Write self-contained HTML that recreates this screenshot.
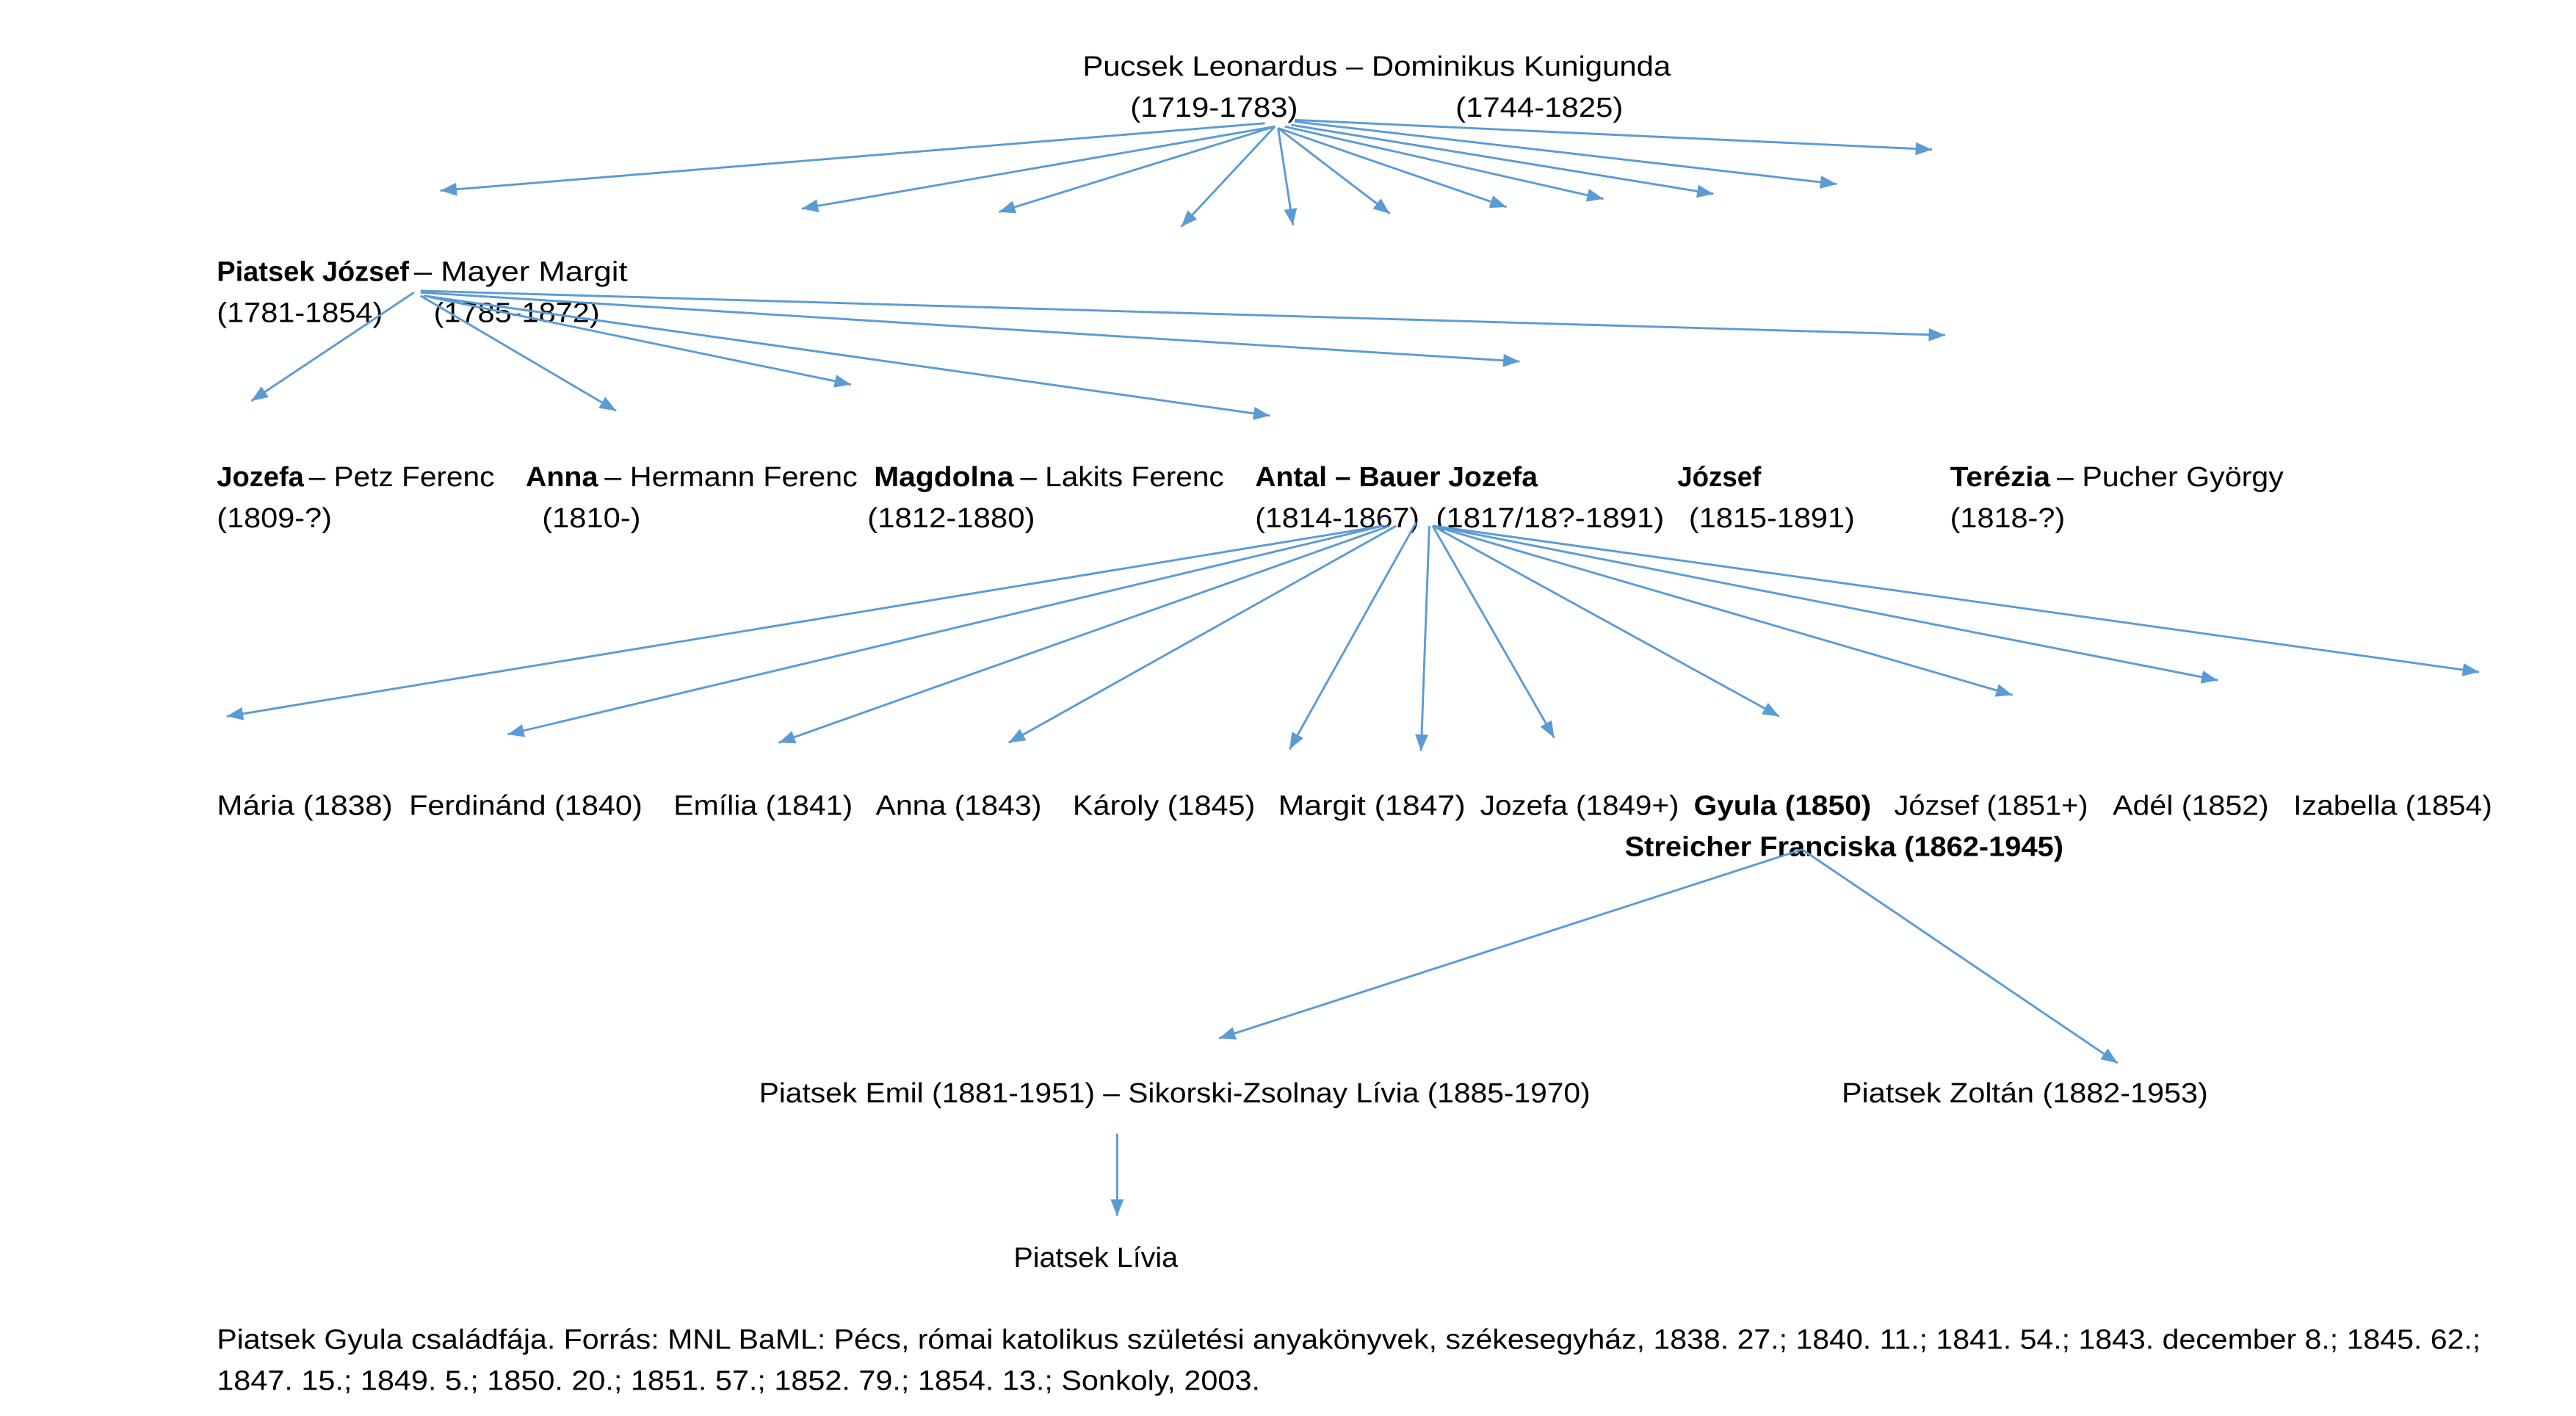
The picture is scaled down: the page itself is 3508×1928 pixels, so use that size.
<!DOCTYPE html>
<html><head><meta charset="utf-8"><style>
html,body{margin:0;padding:0;background:#fff;}
svg{display:block;}
text{font-family:"Liberation Sans",sans-serif;font-size:17px;fill:#000;}
.b{font-weight:bold;}
line{stroke:#5b9bd5;stroke-width:1.3;}
</style></head><body>
<svg width="3508" height="1928" viewBox="0 0 1568 861.8" preserveAspectRatio="none" xmlns="http://www.w3.org/2000/svg">
<defs><marker id="a" markerWidth="10" markerHeight="8" refX="10" refY="4" orient="auto" markerUnits="userSpaceOnUse"><path d="M0,0 L10,4 L0,8 Z" fill="#5b9bd5"/></marker></defs>

<text x="659" y="46" textLength="358" lengthAdjust="spacingAndGlyphs">Pucsek Leonardus  –  Dominikus Kunigunda</text>
<text x="688" y="71" textLength="102" lengthAdjust="spacingAndGlyphs">(1719-1783)</text>
<text x="886" y="71" textLength="102" lengthAdjust="spacingAndGlyphs">(1744-1825)</text>

<text x="132" y="171" class="b" textLength="117" lengthAdjust="spacingAndGlyphs">Piatsek József</text>
<text x="252" y="171" textLength="130" lengthAdjust="spacingAndGlyphs">– Mayer Margit</text>
<text x="132" y="196" textLength="101" lengthAdjust="spacingAndGlyphs">(1781-1854)</text>
<text x="264" y="196" textLength="101" lengthAdjust="spacingAndGlyphs">(1785-1872)</text>

<text x="132" y="296" class="b" textLength="53" lengthAdjust="spacingAndGlyphs">Jozefa</text>
<text x="188" y="296" textLength="113" lengthAdjust="spacingAndGlyphs">– Petz Ferenc</text>
<text x="320" y="296" class="b" textLength="44" lengthAdjust="spacingAndGlyphs">Anna</text>
<text x="368" y="296" textLength="154" lengthAdjust="spacingAndGlyphs">– Hermann Ferenc</text>
<text x="532" y="296" class="b" textLength="85" lengthAdjust="spacingAndGlyphs">Magdolna</text>
<text x="621" y="296" textLength="124" lengthAdjust="spacingAndGlyphs">– Lakits Ferenc</text>
<text x="764" y="296" class="b" textLength="172" lengthAdjust="spacingAndGlyphs">Antal – Bauer Jozefa</text>
<text x="1021" y="296" class="b" textLength="51" lengthAdjust="spacingAndGlyphs">József</text>
<text x="1187" y="296" class="b" textLength="61" lengthAdjust="spacingAndGlyphs">Terézia</text>
<text x="1252" y="296" textLength="138" lengthAdjust="spacingAndGlyphs">– Pucher György</text>

<text x="132" y="321" textLength="70" lengthAdjust="spacingAndGlyphs">(1809-?)</text>
<text x="330" y="321" textLength="60" lengthAdjust="spacingAndGlyphs">(1810-)</text>
<text x="528" y="321" textLength="102" lengthAdjust="spacingAndGlyphs">(1812-1880)</text>
<text x="764" y="321" textLength="100" lengthAdjust="spacingAndGlyphs">(1814-1867)</text>
<text x="874" y="321" textLength="139" lengthAdjust="spacingAndGlyphs">(1817/18?-1891)</text>
<text x="1028" y="321" textLength="101" lengthAdjust="spacingAndGlyphs">(1815-1891)</text>
<text x="1187" y="321" textLength="70" lengthAdjust="spacingAndGlyphs">(1818-?)</text>

<text x="132" y="496" textLength="107" lengthAdjust="spacingAndGlyphs">Mária (1838)</text>
<text x="249" y="496" textLength="142" lengthAdjust="spacingAndGlyphs">Ferdinánd (1840)</text>
<text x="410" y="496" textLength="109" lengthAdjust="spacingAndGlyphs">Emília (1841)</text>
<text x="533" y="496" textLength="101" lengthAdjust="spacingAndGlyphs">Anna (1843)</text>
<text x="653" y="496" textLength="111" lengthAdjust="spacingAndGlyphs">Károly (1845)</text>
<text x="778" y="496" textLength="114" lengthAdjust="spacingAndGlyphs">Margit (1847)</text>
<text x="901" y="496" textLength="121" lengthAdjust="spacingAndGlyphs">Jozefa (1849+)</text>
<text x="1031" y="496" class="b" textLength="108" lengthAdjust="spacingAndGlyphs">Gyula (1850)</text>
<text x="1153" y="496" textLength="118" lengthAdjust="spacingAndGlyphs">József (1851+)</text>
<text x="1286" y="496" textLength="95" lengthAdjust="spacingAndGlyphs">Adél (1852)</text>
<text x="1396" y="496" textLength="121" lengthAdjust="spacingAndGlyphs">Izabella (1854)</text>
<text x="989" y="521" class="b" textLength="267" lengthAdjust="spacingAndGlyphs">Streicher Franciska (1862-1945)</text>

<text x="462" y="671" textLength="506" lengthAdjust="spacingAndGlyphs">Piatsek Emil (1881-1951) – Sikorski-Zsolnay Lívia (1885-1970)</text>
<text x="1121" y="671" textLength="223" lengthAdjust="spacingAndGlyphs">Piatsek Zoltán (1882-1953)</text>
<text x="617" y="771" textLength="100" lengthAdjust="spacingAndGlyphs">Piatsek Lívia</text>

<text x="132" y="821" textLength="1378" lengthAdjust="spacingAndGlyphs">Piatsek Gyula családfája. Forrás: MNL BaML: Pécs, római katolikus születési anyakönyvek, székesegyház, 1838. 27.; 1840. 11.; 1841. 54.; 1843. december 8.; 1845. 62.;</text>
<text x="132" y="846" textLength="635" lengthAdjust="spacingAndGlyphs">1847. 15.; 1849. 5.; 1850. 20.; 1851. 57.; 1852. 79.; 1854. 13.; Sonkoly, 2003.</text>

<g marker-end="url(#a)">
<line x1="770" y1="75" x2="268" y2="116"/>
<line x1="776" y1="77" x2="488" y2="127"/>
<line x1="776" y1="77" x2="608" y2="129"/>
<line x1="776" y1="77" x2="719" y2="138"/>
<line x1="778" y1="78" x2="787" y2="137"/>
<line x1="778" y1="78" x2="846" y2="130"/>
<line x1="778" y1="78" x2="917" y2="126"/>
<line x1="782" y1="77" x2="976" y2="121"/>
<line x1="786" y1="76" x2="1043" y2="118"/>
<line x1="788" y1="74" x2="1118" y2="112"/>
<line x1="788" y1="73" x2="1176" y2="91"/>

<line x1="252" y1="178" x2="153" y2="244"/>
<line x1="256" y1="180" x2="375" y2="250"/>
<line x1="258" y1="180" x2="518" y2="234"/>
<line x1="258" y1="180" x2="773" y2="253"/>
<line x1="256" y1="178" x2="925" y2="220"/>
<line x1="256" y1="177" x2="1184" y2="204"/>

<line x1="842" y1="320" x2="138" y2="436"/>
<line x1="842" y1="320" x2="309" y2="447"/>
<line x1="846" y1="320" x2="474" y2="452"/>
<line x1="850" y1="320" x2="614" y2="452"/>
<line x1="862" y1="318" x2="785" y2="456"/>
<line x1="870" y1="320" x2="865" y2="457"/>
<line x1="872" y1="320" x2="946" y2="449"/>
<line x1="872" y1="320" x2="1083" y2="436"/>
<line x1="872" y1="320" x2="1225" y2="423"/>
<line x1="872" y1="320" x2="1350" y2="414"/>
<line x1="872" y1="320" x2="1509" y2="409"/>

<line x1="1097" y1="517" x2="742" y2="632"/>
<line x1="1097" y1="517" x2="1289" y2="647"/>
<line x1="680" y1="690" x2="680" y2="740"/>
</g>
</svg>
</body></html>
